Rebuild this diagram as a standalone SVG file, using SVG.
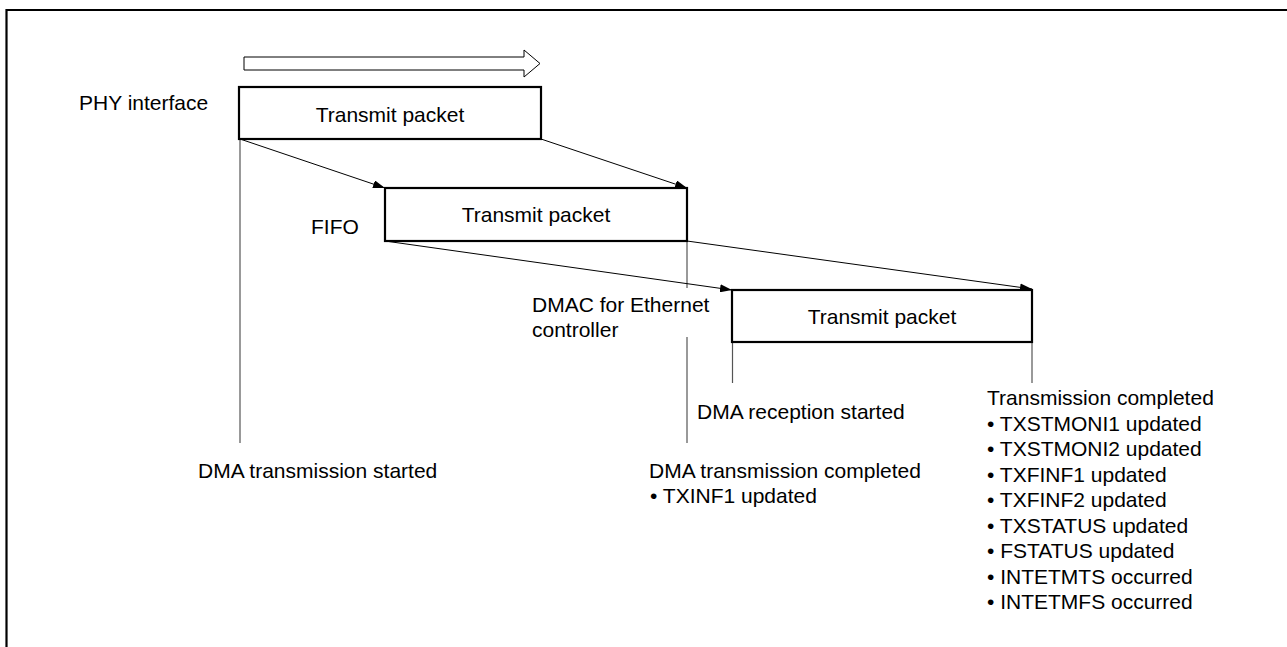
<svg xmlns="http://www.w3.org/2000/svg" width="1287" height="647" viewBox="0 0 1287 647">
<defs>
<style>
text{font-family:"Liberation Sans",Arial,sans-serif;font-size:21px;fill:#000}
.box{fill:#fff;stroke:#000;stroke-width:2.2}
.vl{stroke:#555;stroke-width:1.2;fill:none}
.dl{stroke:#000;stroke-width:1;fill:none}
.mid{text-anchor:middle}
</style>
<marker id="ah" viewBox="0 0 12 8" refX="12" refY="4" markerWidth="12" markerHeight="8" markerUnits="userSpaceOnUse" orient="auto">
<path d="M0,0 L12,4 L0,8 z" fill="#000"/>
</marker>
</defs>
<rect width="1287" height="647" fill="#fff"/>
<g id="frame">
<path d="M6.5,647 V10 H1287" fill="none" stroke="#000" stroke-width="2.2"/>
</g>
<g id="direction-arrow">
<path d="M244,57 H524 V50 L540,63.5 L524,77 V70 H244 Z" fill="#fff" stroke="#000" stroke-width="1"/>
</g>
<g id="connectors">
<line class="vl" x1="240" y1="139" x2="240" y2="443"/>
<line class="vl" x1="687" y1="241" x2="687" y2="288"/>
<line class="vl" x1="687" y1="337" x2="687" y2="443"/>
<line class="vl" x1="732.5" y1="342" x2="732.5" y2="383"/>
<line class="vl" x1="1032" y1="342" x2="1032" y2="383"/>
<line class="dl" x1="240" y1="139" x2="385" y2="188" marker-end="url(#ah)"/>
<line class="dl" x1="541" y1="139" x2="687" y2="188" marker-end="url(#ah)"/>
<line class="dl" x1="385" y1="241" x2="732" y2="290" marker-end="url(#ah)"/>
<line class="dl" x1="687" y1="241" x2="1032" y2="289" marker-end="url(#ah)"/>
</g>
<g id="phy">
<text x="79" y="110">PHY interface</text>
<rect class="box" x="239" y="87" width="302" height="52"/>
<text class="mid" x="390" y="122">Transmit packet</text>
</g>
<g id="fifo">
<text x="311" y="234">FIFO</text>
<rect class="box" x="385" y="188" width="302" height="53"/>
<text class="mid" x="536" y="222">Transmit packet</text>
</g>
<g id="dmac">
<text x="532" y="312">DMAC for Ethernet</text>
<text x="532" y="337">controller</text>
<rect class="box" x="732" y="290" width="300" height="52"/>
<text class="mid" x="882" y="324">Transmit packet</text>
</g>
<g id="labels">
<text x="198" y="478">DMA transmission started</text>
<text x="697" y="419">DMA reception started</text>
<text x="649" y="478">DMA transmission completed</text>
<text x="650" y="503">• TXINF1 updated</text>
<text x="987" y="405">Transmission completed</text>
<text x="987" y="430.5">• TXSTMONI1 updated</text>
<text x="987" y="456">• TXSTMONI2 updated</text>
<text x="987" y="481.5">• TXFINF1 updated</text>
<text x="987" y="507">• TXFINF2 updated</text>
<text x="987" y="532.5">• TXSTATUS updated</text>
<text x="987" y="558">• FSTATUS updated</text>
<text x="987" y="583.5">• INTETMTS occurred</text>
<text x="987" y="609">• INTETMFS occurred</text>
</g>
</svg>
